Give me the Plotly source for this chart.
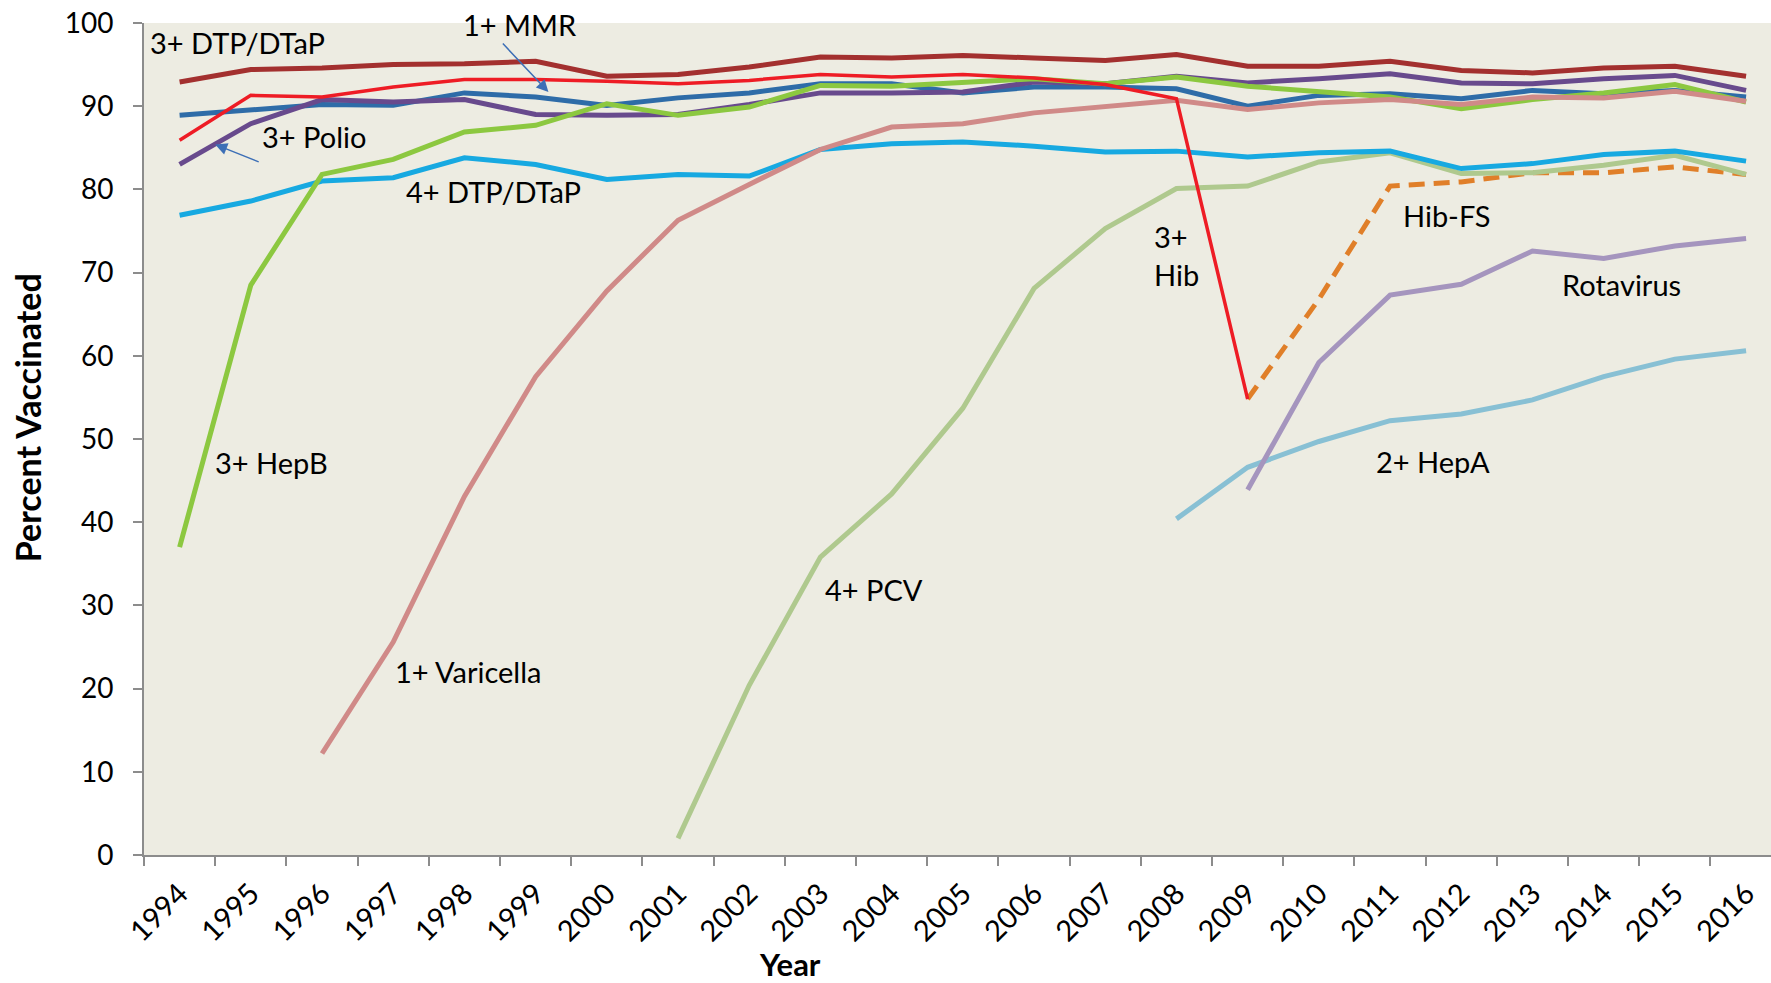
import plotly.graph_objects as go

years = [str(y) for y in range(1994, 2017)]

dtp3 = [92.9, 94.4, 94.6, 95.0, 95.1, 95.4, 93.6, 93.8, 94.7, 95.9, 95.8, 96.1, 95.8, 95.5, 96.2, 94.8, 94.8, 95.4, 94.3, 94.0, 94.6, 94.8, 93.6]
hib3 = [85.9, 91.3, 91.1, 92.3, 93.2, 93.2, 93.0, 92.7, 93.1, 93.8, 93.5, 93.8, 93.4, 92.6, 90.9, 54.8] + [None] * 7
mmr1 = [88.9, 89.6, 90.2, 90.1, 91.6, 91.1, 90.1, 91.0, 91.6, 92.7, 92.7, 91.6, 92.3, 92.3, 92.1, 90.0, 91.3, 91.5, 90.9, 91.9, 91.5, 91.9, 91.1]
polio3 = [83.0, 87.9, 90.8, 90.5, 90.8, 89.0, 88.9, 89.0, 90.2, 91.6, 91.6, 91.7, 92.9, 92.7, 93.6, 92.8, 93.3, 93.9, 92.8, 92.7, 93.3, 93.7, 91.9]
hepb3 = [37.0, 68.5, 81.8, 83.6, 86.9, 87.7, 90.3, 88.9, 89.9, 92.5, 92.4, 92.9, 93.3, 92.7, 93.5, 92.4, 91.8, 91.1, 89.7, 90.8, 91.6, 92.6, 90.5]
dtp4 = [76.9, 78.6, 81.0, 81.4, 83.8, 83.0, 81.2, 81.8, 81.6, 84.8, 85.5, 85.7, 85.2, 84.5, 84.6, 83.9, 84.4, 84.6, 82.5, 83.1, 84.2, 84.6, 83.4]
varicella1 = [None, None, 12.2, 25.6, 43.1, 57.5, 67.8, 76.3, 80.6, 84.8, 87.5, 87.9, 89.2, 90.0, 90.7, 89.6, 90.4, 90.8, 90.2, 91.1, 91.0, 91.8, 90.6]
pcv4 = [None] * 7 + [2.0, 20.4, 35.8, 43.4, 53.7, 68.1, 75.3, 80.1, 80.4, 83.3, 84.4, 81.9, 82.0, 82.9, 84.1, 81.8]
hibfs = [None] * 15 + [54.8, 66.8, 80.4, 80.9, 82.0, 82.0, 82.7, 81.8]
rotavirus = [None] * 15 + [43.9, 59.2, 67.3, 68.6, 72.6, 71.7, 73.2, 74.1]
hepa2 = [None] * 14 + [40.4, 46.6, 49.7, 52.2, 53.0, 54.7, 57.5, 59.6, 60.6]

y_ticks = [0, 10, 20, 30, 40, 50, 60, 70, 80, 90, 100]

series = [
    ("2+ HepA", hepa2, "#88C0D4", 5, "solid"),
    ("Rotavirus", rotavirus, "#A595BE", 5, "solid"),
    ("Hib-FS", hibfs, "#E07F29", 5, "16px,9px"),
    ("4+ PCV", pcv4, "#AFC98E", 5, "solid"),
    ("4+ DTP/DTaP", dtp4, "#17A9E1", 5, "solid"),
    ("1+ MMR", mmr1, "#2E6CA8", 5, "solid"),
    ("3+ Polio", polio3, "#684A8D", 5, "solid"),
    ("3+ HepB", hepb3, "#8CC840", 5, "solid"),
    ("1+ Varicella", varicella1, "#D08A88", 5, "solid"),
    ("3+ Hib", hib3, "#EE1C25", 3.5, "solid"),
    ("3+ DTP/DTaP", dtp3, "#A3302F", 5, "solid"),
]

fig = go.Figure()
for name, vals, color, w, dash in series:
    fig.add_trace(go.Scatter(
        x=years, y=vals, mode="lines", name=name,
        line=dict(color=color, width=w, dash=dash),
        connectgaps=False, showlegend=False,
    ))

font_family = "Lato, 'Open Sans', sans-serif"
lab = dict(size=29, color="#000000", family=font_family)

labels = [
    ("3+ DTP/DTaP", -0.437, 97.6),
    ("1+ MMR", 3.945, 99.8),
    ("3+ Polio", 1.135, 86.4),
    ("4+ DTP/DTaP", 3.145, 79.7),
    ("3+ HepB", 0.462, 47.2),
    ("1+ Varicella", 2.99, 22.1),
    ("4+ PCV", 9.04, 31.9),
    ("3+<br>Hib", 13.66, 72.1),
    ("Hib-FS", 17.15, 76.9),
    ("Rotavirus", 19.38, 68.6),
    ("2+ HepA", 16.77, 47.3),
]
annotations = []
for text, xi, yv in labels:
    annotations.append(dict(
        text=text, x=xi, y=yv, xref="x", yref="y", showarrow=False,
        xanchor="left", yanchor="middle", align="left", font=lab,
    ))

# arrows
annotations.append(dict(
    x=5.18, y=91.7, xref="x", yref="y", ax=-47, ay=-50,
    showarrow=True, arrowhead=2, arrowsize=1.6, arrowwidth=1.5,
    arrowcolor="#3D6FB6", text="",
))
annotations.append(dict(
    x=0.50, y=85.4, xref="x", yref="y", ax=45, ay=18,
    showarrow=True, arrowhead=2, arrowsize=1.6, arrowwidth=1.5,
    arrowcolor="#3D6FB6", text="",
))

# axis titles
annotations.append(dict(
    text="<b>Percent Vaccinated</b>", xref="paper", yref="paper",
    x=-0.0719, y=0.525, textangle=-90, showarrow=False,
    xanchor="center", yanchor="middle",
    font=dict(size=34, color="#000000", family=font_family),
))
annotations.append(dict(
    text="<b>Year</b>", xref="paper", yref="paper",
    x=0.397, y=-0.131, showarrow=False,
    xanchor="center", yanchor="middle",
    font=dict(size=31, color="#000000", family=font_family),
))

fig.update_layout(
    width=1771, height=983,
    margin=dict(l=144, r=0, t=23, b=128),
    paper_bgcolor="#FFFFFF",
    plot_bgcolor="#EDECE2",
    annotations=annotations,
    font=dict(family=font_family, color="#000000"),
)
fig.update_xaxes(
    type="category", range=[-0.5, 22.35], automargin=False,
    tickangle=-45, tickson="boundaries",
    ticks="outside", ticklen=9, tickcolor="#8C8C8C", tickwidth=1.5,
    ticklabelstandoff=8, ticklabeloverflow="allow",
    showline=True, linecolor="#8C8C8C", linewidth=2,
    showgrid=False, zeroline=False,
    tickfont=dict(size=29, color="#000000", family=font_family),
)
fig.update_yaxes(
    range=[0, 100], tickvals=y_ticks, automargin=False,
    ticks="outside", ticklen=9, tickcolor="#8C8C8C", tickwidth=1.5,
    ticklabelstandoff=14, ticklabeloverflow="allow",
    showline=True, linecolor="#8C8C8C", linewidth=2,
    showgrid=False, zeroline=False,
    tickfont=dict(size=28, color="#000000", family=font_family),
)

fig.write_html(
    "out.html",
    config={"displayModeBar": False},
    post_script="document.body.style.margin='0';document.body.style.overflow='hidden';",
)
